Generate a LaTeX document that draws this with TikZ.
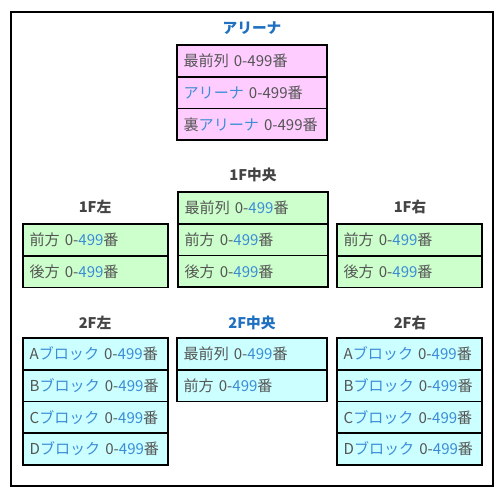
\documentclass[tikz,border=0pt]{standalone}
\usepackage{fontspec}
\setmainfont{Noto Sans CJK JP}
\usetikzlibrary{positioning}
\definecolor{kanji}{HTML}{555555}
\definecolor{kana}{HTML}{3C8DD6}
\definecolor{headgray}{HTML}{444444}
\definecolor{headblue}{HTML}{1F70C0}
\definecolor{pinkfill}{HTML}{FFCCFF}
\definecolor{greenfill}{HTML}{CCFFCC}
\definecolor{cyanfill}{HTML}{CCFFFF}
\newcommand{\kn}[1]{\textcolor{kana}{#1}}
\begin{document}
\begin{tikzpicture}[x=0.75pt,y=-0.75pt,
    seat/.style={draw=black,line width=1.35pt,outer sep=0pt,inner xsep=5pt,inner ysep=0pt,
      minimum height=23.8pt,align=left,text=kanji,font=\fontsize{11.3}{13}\selectfont},
    wide/.style={seat,text width=102.5pt},
    narrow/.style={seat,text width=98.75pt},
    arena/.style={wide,fill=pinkfill},
    center1/.style={wide,fill=greenfill},
    side1/.style={narrow,fill=greenfill},
    center2/.style={wide,fill=cyanfill},
    side2/.style={narrow,fill=cyanfill},
    head/.style={font=\fontsize{11}{13}\selectfont\bfseries,text=headgray,inner sep=0pt},
    headb/.style={head,text=headblue}]
  \fill[white] (0,0) rectangle (500,491);
  \draw[line width=1.1pt] (11,12) rectangle (493,486);

  \node[headb] (tarena) at (252,28) {アリーナ};
  \node[arena,anchor=north west] (ar1) at (177,45) {最前列 0-499番};
  \node[arena,below=0pt of ar1] (ar2) {\kn{アリーナ} 0-499番};
  \node[arena,below=0pt of ar2] (ar3) {裏\kn{アリーナ} 0-499番};

  \node[head] (t1c) at (253,175) {1F中央};
  \node[center1,anchor=north west] (c1a) at (178,192) {最前列 0-\kn{499}番};
  \node[center1,below=0pt of c1a] (c1b) {前方 0-\kn{499}番};
  \node[center1,below=0pt of c1b] (c1c) {後方 0-\kn{499}番};

  \node[head] (t1l) at (95,207) {1F左};
  \node[side1,anchor=north west] (l1a) at (23,224) {前方 0-\kn{499}番};
  \node[side1,below=0pt of l1a] (l1b) {後方 0-\kn{499}番};

  \node[head] (t1r) at (410,207) {1F右};
  \node[side1,anchor=north west] (r1a) at (337,224) {前方 0-\kn{499}番};
  \node[side1,below=0pt of r1a] (r1b) {後方 0-\kn{499}番};

  \node[head] (t2l) at (95,323) {2F左};
  \node[side2,anchor=north west] (l2a) at (23,338) {A\kn{ブロック} 0-\kn{499}番};
  \node[side2,below=0pt of l2a] (l2b) {B\kn{ブロック} 0-\kn{499}番};
  \node[side2,below=0pt of l2b] (l2c) {C\kn{ブロック} 0-\kn{499}番};
  \node[side2,below=0pt of l2c] (l2d) {D\kn{ブロック} 0-\kn{499}番};

  \node[headb] (t2c) at (252,323) {2F中央};
  \node[center2,anchor=north west] (c2a) at (177,338) {最前列 0-\kn{499}番};
  \node[center2,below=0pt of c2a] (c2b) {前方 0-\kn{499}番};

  \node[head] (t2r) at (410,323) {2F右};
  \node[side2,anchor=north west] (r2a) at (337,338) {A\kn{ブロック} 0-\kn{499}番};
  \node[side2,below=0pt of r2a] (r2b) {B\kn{ブロック} 0-\kn{499}番};
  \node[side2,below=0pt of r2b] (r2c) {C\kn{ブロック} 0-\kn{499}番};
  \node[side2,below=0pt of r2c] (r2d) {D\kn{ブロック} 0-\kn{499}番};
\end{tikzpicture}
\end{document}
